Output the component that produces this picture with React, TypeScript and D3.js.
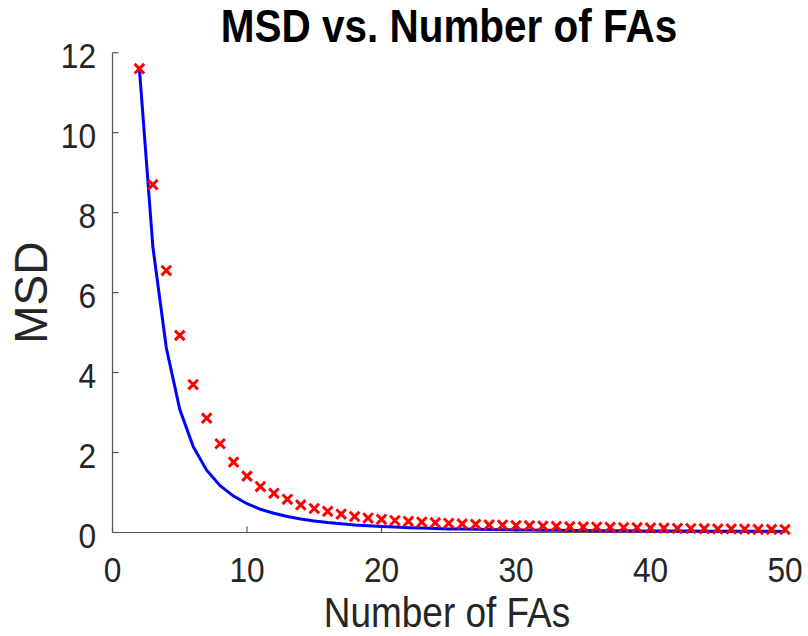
import { useEffect, useRef } from 'react';
import * as d3 from 'd3';

// number of FAs (x), sampled measurement (red x) and fitted curve (blue line)
const numFAs = [
  2, 3, 4, 5, 6, 7, 8, 9, 10, 11, 12, 13, 14, 15, 16, 17, 18, 19, 20, 21, 22, 23, 24, 25, 26,
  27, 28, 29, 30, 31, 32, 33, 34, 35, 36, 37, 38, 39, 40, 41, 42, 43, 44, 45, 46, 47, 48, 49, 50,
];

const msdMeasured = [
  11.6, 8.7, 6.55, 4.93, 3.7, 2.86, 2.22, 1.76, 1.41, 1.15, 0.98, 0.83, 0.69, 0.6, 0.53, 0.46,
  0.4, 0.36, 0.33, 0.3, 0.28, 0.26, 0.245, 0.23, 0.215, 0.205, 0.19, 0.185, 0.175, 0.17, 0.16,
  0.155, 0.145, 0.14, 0.135, 0.13, 0.125, 0.12, 0.115, 0.11, 0.105, 0.1, 0.095, 0.09, 0.088,
  0.085, 0.08, 0.078, 0.075,
];

const msdCurve = [
  11.6, 7.15, 4.62, 3.08, 2.15, 1.56, 1.17, 0.91, 0.72, 0.58, 0.48, 0.4, 0.34, 0.29, 0.25, 0.22,
  0.19, 0.17, 0.15, 0.135, 0.12, 0.11, 0.1, 0.09, 0.085, 0.08, 0.075, 0.07, 0.065, 0.06, 0.057,
  0.054, 0.05, 0.048, 0.046, 0.044, 0.042, 0.04, 0.038, 0.037, 0.036, 0.035, 0.034, 0.033,
  0.032, 0.031, 0.03, 0.029, 0.028,
];

const xTicks = [0, 10, 20, 30, 40, 50];
const yTicks = [0, 2, 4, 6, 8, 10, 12];

const WIDTH = 808;
const HEIGHT = 636;
const FONT = '"Liberation Sans", Arial, Helvetica, sans-serif';
// the reference figure's text is slightly narrower than Arial
const SQUEEZE = 0.88;

export default function App() {
  const svgRef = useRef<SVGSVGElement>(null);

  useEffect(() => {
    if (!svgRef.current) return;
    const svg = d3.select(svgRef.current);
    svg.selectAll('*').remove();

    const x = d3.scaleLinear().domain([0, 50]).range([112.5, 785]);
    const y = d3.scaleLinear().domain([0, 12]).range([532.5, 52.7]);

    const axisColor = '#262626';
    const lineColor = '#555';

    const label = (tx: number, ty: number, txt: string | number, size: number, anchor: string) =>
      svg
        .append('text')
        .attr('transform', `translate(${tx},${ty}) scale(${SQUEEZE},1)`)
        .attr('text-anchor', anchor)
        .style('font-family', FONT)
        .style('font-size', `${size}px`)
        .style('fill', axisColor)
        .text(txt);

    // axis lines (no box)
    svg
      .append('line')
      .attr('x1', x(0))
      .attr('x2', x(50))
      .attr('y1', y(0))
      .attr('y2', y(0))
      .attr('stroke', lineColor)
      .attr('stroke-width', 1.2);

    svg
      .append('line')
      .attr('x1', x(0))
      .attr('x2', x(0))
      .attr('y1', y(0))
      .attr('y2', y(12))
      .attr('stroke', lineColor)
      .attr('stroke-width', 1.2);

    xTicks.forEach((t) => {
      svg
        .append('line')
        .attr('x1', x(t))
        .attr('x2', x(t))
        .attr('y1', y(0))
        .attr('y2', y(0) - 6)
        .attr('stroke', lineColor)
        .attr('stroke-width', 1.2);
      label(x(t), 581.5, t, 36, 'middle');
    });

    yTicks.forEach((t) => {
      svg
        .append('line')
        .attr('x1', x(0))
        .attr('x2', x(0) + 6)
        .attr('y1', y(t))
        .attr('y2', y(t))
        .attr('stroke', lineColor)
        .attr('stroke-width', 1.2);
      label(96, y(t) + 15, t, 36, 'end');
    });

    // fitted curve
    const line = d3
      .line<number>()
      .x((_, i) => x(numFAs[i]))
      .y((d) => y(d));

    svg
      .append('path')
      .datum(msdCurve)
      .attr('d', line)
      .attr('fill', 'none')
      .attr('stroke', '#0000ff')
      .attr('stroke-width', 3);

    // measured points as x markers
    const s = 4.8;
    svg
      .append('g')
      .selectAll('path')
      .data(msdMeasured)
      .join('path')
      .attr('transform', (d, i) => `translate(${x(numFAs[i])},${y(d)})`)
      .attr('d', `M${-s},${-s}L${s},${s}M${-s},${s}L${s},${-s}`)
      .attr('stroke', '#ff0000')
      .attr('stroke-width', 3)
      .attr('fill', 'none');

    // title
    label(449, 42, 'MSD vs. Number of FAs', 46, 'middle')
      .style('font-weight', 'bold')
      .style('fill', '#000');

    // axis labels
    label(447, 627, 'Number of FAs', 42, 'middle');

    svg
      .append('text')
      .attr('transform', `translate(47,${y(6)}) rotate(-90)`)
      .attr('text-anchor', 'middle')
      .style('font-family', FONT)
      .style('font-size', '46px')
      .style('fill', axisColor)
      .text('MSD');
  }, []);

  return (
    <svg
      ref={svgRef}
      width={WIDTH}
      height={HEIGHT}
      style={{ position: 'absolute', left: 0, top: 0, background: '#fff' }}
    ></svg>
  );
}
